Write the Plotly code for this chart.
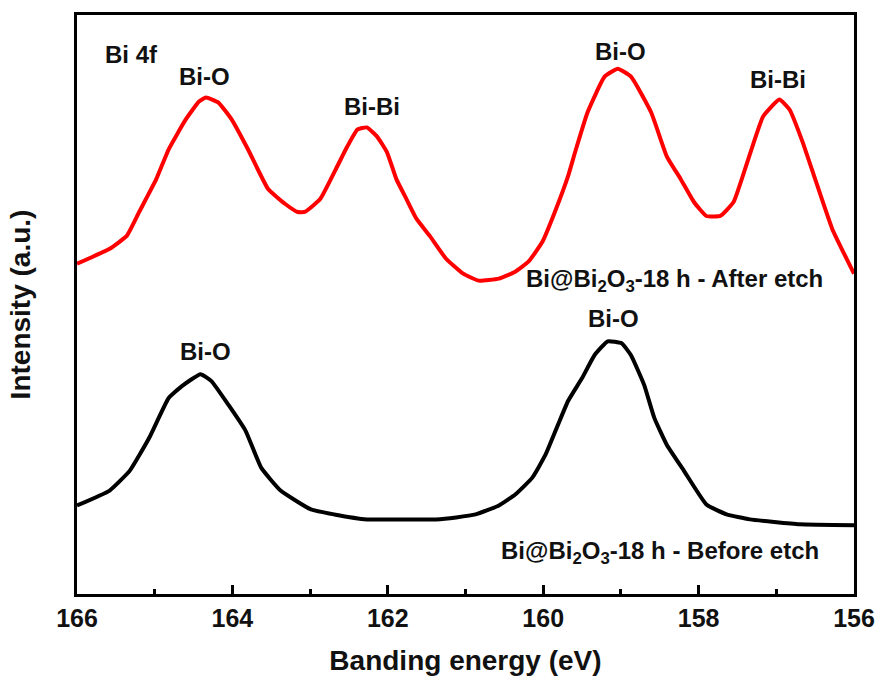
import plotly.graph_objects as go

# Binding energy (eV) and intensity (a.u.)
after_energy = [166.00, 165.58, 165.36, 165.20, 164.98, 164.82, 164.60, 164.43, 164.34, 164.18,
                164.01, 163.80, 163.54, 163.32, 163.16, 163.07, 162.87, 162.65, 162.52, 162.39,
                162.27, 162.14, 162.01, 161.89, 161.76, 161.63, 161.46, 161.25, 161.03, 160.83,
                160.57, 160.36, 160.19, 160.01, 159.85, 159.68, 159.59, 159.43, 159.21, 159.04,
                158.87, 158.61, 158.41, 158.23, 158.06, 157.90, 157.72, 157.55, 157.39, 157.17,
                156.96, 156.83, 156.66, 156.50, 156.28, 156.00]
after_intensity = [332, 347, 360, 384, 417, 447, 477, 495, 499, 494,
                   477, 447, 407, 392, 384, 384, 397, 430, 450, 467,
                   469, 460, 444, 417, 397, 377, 360, 337, 322, 315,
                   317, 324, 334, 354, 384, 420, 444, 484, 520, 528,
                   520, 484, 440, 417, 394, 380, 380, 394, 430, 480,
                   497, 487, 454, 417, 367, 322]

before_energy = [166.00, 165.58, 165.32, 165.07, 164.82, 164.65, 164.41, 164.27, 164.05, 163.83,
                 163.63, 163.38, 162.99, 162.69, 162.27, 161.97, 161.38, 161.12, 160.87, 160.57,
                 160.36, 160.14, 159.97, 159.81, 159.68, 159.50, 159.34, 159.17, 158.99, 158.87,
                 158.70, 158.57, 158.41, 158.19, 157.90, 157.64, 157.34, 156.70, 156.00]
before_intensity = [89, 104, 124, 157, 197, 209, 221, 214, 190, 164,
                    127, 104, 85, 80, 75, 75, 75, 77, 80, 89,
                    100, 117, 140, 170, 194, 217, 240, 254, 252, 240,
                    210, 177, 150, 124, 90, 80, 75, 70, 69]

label_text = ["Bi 4f", "Bi-O", "Bi-Bi", "Bi-O", "Bi-Bi",
              "Bi@Bi<sub>2</sub>O<sub>3</sub>-18 h - After etch",
              "Bi-O", "Bi-O",
              "Bi@Bi<sub>2</sub>O<sub>3</sub>-18 h - Before etch"]
label_x = [165.67, 164.36, 162.20, 159.01, 156.98, 158.31, 164.34, 159.10, 158.50]
label_y = [542, 520, 490, 545, 517, 315, 244, 277, 42]
label_anchor = ["left", "center", "center", "center", "center", "center", "center", "center", "center"]

FONT = "Liberation Sans, Arial, sans-serif"

fig = go.Figure()
fig.add_trace(go.Scatter(x=after_energy, y=after_intensity, mode="lines",
                         line=dict(color="#ff0000", width=4, shape="spline", smoothing=0.4),
                         name="After etch", showlegend=False))
fig.add_trace(go.Scatter(x=before_energy, y=before_intensity, mode="lines",
                         line=dict(color="#000000", width=4, shape="spline", smoothing=0.4),
                         name="Before etch", showlegend=False))

for t, x, y, a in zip(label_text, label_x, label_y, label_anchor):
    fig.add_annotation(x=x, y=y, text=t, showarrow=False,
                       xanchor=a, yanchor="middle",
                       font=dict(family=FONT, size=24, color="#111111", weight="bold"))

fig.update_layout(
    width=887, height=684,
    margin=dict(l=77, r=25, t=15, b=87),
    paper_bgcolor="white", plot_bgcolor="white",
    font=dict(family=FONT, color="#111111"),
    xaxis=dict(range=[166, 156], dtick=2, tick0=156,
               showline=True, mirror=True, linecolor="black", linewidth=3,
               ticks="inside", ticklen=9, tickwidth=2.5, tickcolor="black",
               minor=dict(dtick=1, ticks="inside", ticklen=5, tickwidth=2.5, tickcolor="black"),
               showgrid=False, zeroline=False,
               tickfont=dict(family=FONT, size=25, color="#111111", weight="bold"),
               title=dict(text="Banding energy (eV)", standoff=20,
                          font=dict(family=FONT, size=28, color="#111111", weight="bold"))),
    yaxis=dict(range=[0, 582], showticklabels=False, ticks="",
               showline=True, mirror=True, linecolor="black", linewidth=3,
               showgrid=False, zeroline=False,
               title=dict(text="Intensity (a.u.)", standoff=36,
                          font=dict(family=FONT, size=28, color="#111111", weight="bold"))),
)

fig.write_html("out.html")
